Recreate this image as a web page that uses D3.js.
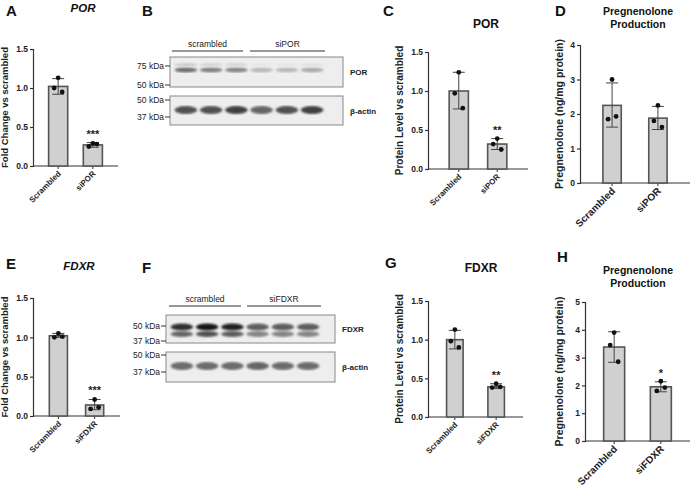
<!DOCTYPE html>
<html><head><meta charset="utf-8">
<script src="https://cdn.jsdelivr.net/npm/d3@7"></script>
<style>body{margin:0;background:#fff}text{font-family:Arial,"Liberation Sans",sans-serif}</style>
</head><body><svg id="c" width="696" height="492"></svg>
<script>
const groupsPOR=["Scrambled","siPOR"], groupsFDXR=["Scrambled","siFDXR"];
const A_means=[1.02,0.27], A_pts=[[1.13,1.0,0.95],[0.29,0.25,0.28]], A_err=[[0.92,1.12],[0.24,0.30]];
const C_means=[1.0,0.32], C_pts=[[1.24,0.97,0.78],[0.39,0.32,0.25]], C_err=[[0.77,1.24],[0.25,0.39]];
const D_means=[2.25,1.88], D_pts=[[3.0,1.85,1.93],[2.25,1.8,1.62]], D_err=[[1.62,2.9],[1.55,2.22]];
const E_means=[1.02,0.14], E_pts=[[1.05,1.0,1.01],[0.21,0.09,0.11]], E_err=[[1.0,1.05],[0.08,0.21]];
const G_means=[1.0,0.39], G_pts=[[1.13,0.98,0.9],[0.43,0.38,0.39]], G_err=[[0.88,1.12],[0.37,0.43]];
const H_means=[3.38,1.95], H_pts=[[3.9,3.45,2.85],[2.15,1.8,1.92]], H_err=[[2.83,3.93],[1.77,2.13]];
const ticks15=[0,0.5,1.0,1.5], ticks4=[0,1,2,3,4], ticks5=[0,1,2,3,4,5];
const blotB_top=[0.7,0.62,0.6,0.4,0.4,0.45], blotB_act=[0.8,0.8,0.85,0.72,0.8,0.85];
const blotF_top=[0.9,1.0,0.95,0.75,0.75,0.75], blotF_act=[0.7,0.7,0.7,0.72,0.7,0.7];

const svg=d3.select("#c");
const defs=svg.append("defs");
defs.append("filter").attr("id","bl").append("feGaussianBlur").attr("stdDeviation",1.3);

function panel(o){
  const g=svg.append("g");
  const y=d3.scaleLinear().domain([0,o.max]).range([o.y0,o.y1]);
  const x=d3.scaleBand().domain(o.groups).range([o.x0,o.x1]).paddingInner(o.pin).paddingOuter(o.pout);
  const ax=g.append("g").attr("transform",`translate(${o.x0},0)`).call(d3.axisLeft(y).tickValues(o.ticks).tickFormat(o.fmt).tickSize(3).tickPadding(2));
  ax.selectAll("path,line").attr("stroke","#333").attr("stroke-width",1.2);
  ax.selectAll("text").attr("font-size",8.5).attr("font-weight","bold").attr("fill","#222");
  const bx=g.append("g").attr("transform",`translate(0,${o.y0})`).call(d3.axisBottom(x).tickSize(3).tickSizeOuter(0).tickPadding(2));
  bx.select("path").attr("d",`M${o.x0},0H${o.x1}`).attr("stroke","#333").attr("stroke-width",1.2);
  bx.selectAll("line").attr("stroke","#333");
  bx.selectAll("text").attr("font-size",o.xfs).attr("font-weight","bold").attr("fill","#222")
    .attr("text-anchor","end").attr("transform","translate(-2,3) rotate(-45)").attr("dy","0.3em");
  o.groups.forEach((k,i)=>{
    const cx=x(k)+x.bandwidth()/2;
    g.append("rect").attr("x",x(k)).attr("width",x.bandwidth()).attr("y",y(o.means[i])).attr("height",o.y0-y(o.means[i]))
      .attr("fill","#d0d0d0").attr("stroke","#555").attr("stroke-width",1.6);
    const [lo,hi]=o.err[i];
    g.append("line").attr("x1",cx).attr("x2",cx).attr("y1",y(lo)).attr("y2",y(hi)).attr("stroke","#444");
    [lo,hi].forEach(v=>g.append("line").attr("x1",cx-6).attr("x2",cx+6).attr("y1",y(v)).attr("y2",y(v)).attr("stroke","#444"));
    o.pts[i].forEach((v,j)=>g.append("circle").attr("cx",cx+[0,-4,4][j]).attr("cy",y(v)).attr("r",2.4).attr("fill","#111"));
    if(o.sig&&o.sig[i]) g.append("text").attr("x",cx).attr("y",y(o.err[i][1])-5).attr("text-anchor","middle").attr("font-size",11).attr("font-weight","bold").attr("fill","#222").text(o.sig[i]);
  });
  g.append("text").attr("transform",`translate(${o.ylx},${(o.y0+o.y1)/2}) rotate(-90)`).attr("text-anchor","middle")
    .attr("font-size",o.ylfs||9.5).attr("font-weight","bold").attr("fill","#222").text(o.ylab);
}
function lab(t,x,y,s,it){svg.append("text").attr("x",x).attr("y",y).attr("font-size",s).attr("font-weight","bold").attr("font-style",it?"italic":"normal").attr("text-anchor",s>=14?"start":"middle").attr("fill","#111").text(t);}

const f15=d3.format(".1f"), f0=d3.format("d");
panel({groups:groupsPOR,means:A_means,pts:A_pts,err:A_err,max:1.5,ticks:ticks15,fmt:f15,x0:33,x1:118,y0:166,y1:49,pin:0.45,pout:0.45,xfs:8,ylab:"Fold Change vs scrambled",ylx:8,sig:[null,"***"]});
panel({groups:groupsPOR,means:C_means,pts:C_pts,err:C_err,max:1.5,ticks:ticks15,fmt:f15,x0:428,x1:528,y0:169,y1:52,pin:0.5,pout:0.55,xfs:8,ylab:"Protein Level vs scrambled",ylx:403,ylfs:10,sig:[null,"**"]});
panel({groups:groupsPOR,means:D_means,pts:D_pts,err:D_err,max:4,ticks:ticks4,fmt:f0,x0:580,x1:690,y0:183,y1:45,pin:0.6,pout:0.5,xfs:10,ylab:"Pregnenolone (ng/mg protein)",ylx:563,ylfs:10.5});
panel({groups:groupsFDXR,means:E_means,pts:E_pts,err:E_err,max:1.5,ticks:ticks15,fmt:f15,x0:33,x1:120,y0:416,y1:298,pin:0.5,pout:0.45,xfs:8,ylab:"Fold Change vs scrambled",ylx:8,sig:[null,"***"]});
panel({groups:groupsFDXR,means:G_means,pts:G_pts,err:G_err,max:1.5,ticks:ticks15,fmt:f15,x0:428,x1:523,y0:417,y1:301,pin:0.6,pout:0.45,xfs:8,ylab:"Protein Level vs scrambled",ylx:403,ylfs:10,sig:[null,"**"]});
panel({groups:groupsFDXR,means:H_means,pts:H_pts,err:H_err,max:5,ticks:ticks5,fmt:f0,x0:585,x1:690,y0:441,y1:302,pin:0.55,pout:0.4,xfs:10,ylab:"Pregnenolone (ng/mg protein)",ylx:563,ylfs:10.5,sig:[null,"*"]});

lab("A",6,16,15);lab("POR",83,12,11.5,true);
lab("B",142,16,15);lab("C",383,16,15);lab("POR",486,28,12);
lab("D",555,16,15);lab("Pregnenolone",638,15,10.5);lab("Production",638,28,10.5);
lab("E",6,269,15);lab("FDXR",79,270,11.5,true);
lab("F",142,273,15);lab("G",385,268,15);lab("FDXR",481,272,12);
lab("H",557,262,15);lab("Pregnenolone",638,274,10.5);lab("Production",638,287,10.5);

function blot(o){
  const g=svg.append("g");
  const lanes=d3.scaleBand().domain(d3.range(6)).range([o.lx0,o.lx1]).padding(0.1);
  [[o.g1,o.s1x0,o.s1x1],[o.g2,o.s2x0,o.s2x1]].forEach(([t,a,b])=>{
    g.append("line").attr("x1",a).attr("x2",b).attr("y1",o.ly).attr("y2",o.ly).attr("stroke","#333");
    g.append("text").attr("x",(a+b)/2).attr("y",o.ly-4).attr("text-anchor","middle").attr("font-size",8.5).attr("fill","#222").text(t);
  });
  o.boxes.forEach(bx=>{
    g.append("rect").attr("x",o.bx0).attr("y",bx.y0).attr("width",o.bx1-o.bx0).attr("height",bx.y1-bx.y0).attr("fill","#eeeeee").attr("stroke","#888");
    bx.bands.forEach(bd=>bd.v.forEach((v,i)=>g.append("ellipse").attr("cx",lanes(i)+lanes.bandwidth()/2).attr("cy",bd.y).attr("rx",lanes.bandwidth()/2).attr("ry",bd.h)
      .attr("fill",d3.interpolateGreys(v)).attr("opacity",0.9).attr("filter","url(#bl)")));
    bx.marks.forEach(([t,yy])=>{g.append("line").attr("x1",o.bx0-5).attr("x2",o.bx0).attr("y1",yy).attr("y2",yy).attr("stroke","#333");
      g.append("text").attr("x",o.bx0-6).attr("y",yy+3).attr("text-anchor","end").attr("font-size",8.5).attr("fill","#222").text(t);});
    g.append("text").attr("x",o.bx1+7).attr("y",(bx.y0+bx.y1)/2+3).attr("font-size",8).attr("font-weight","bold").attr("fill","#222").text(bx.name);
  });
}
blot({g1:"scrambled",g2:"siPOR",s1x0:172,s1x1:243,s2x0:250,s2x1:325,ly:51,bx0:170,bx1:343,lx0:172,lx1:326,
  boxes:[{y0:57,y1:87,name:"POR",marks:[["75 kDa",66],["50 kDa",85]],bands:[{y:70,h:2.5,v:blotB_top},{y:65,h:2,v:blotB_top.map(v=>v*0.45)}]},
         {y0:96,y1:125,name:"β-actin",marks:[["50 kDa",100],["37 kDa",117]],bands:[{y:110,h:4,v:blotB_act}]}]});
blot({g1:"scrambled",g2:"siFDXR",s1x0:169,s1x1:241,s2x0:247,s2x1:321,ly:306,bx0:166,bx1:335,lx0:168,lx1:322,
  boxes:[{y0:315,y1:343,name:"FDXR",marks:[["50 kDa",326],["37 kDa",341]],bands:[{y:327,h:3.5,v:blotF_top},{y:334,h:3,v:blotF_top.map(v=>v*0.8)}]},
         {y0:352,y1:382,name:"β-actin",marks:[["50 kDa",355],["37 kDa",372]],bands:[{y:366,h:4,v:blotF_act}]}]});
</script></body></html>
